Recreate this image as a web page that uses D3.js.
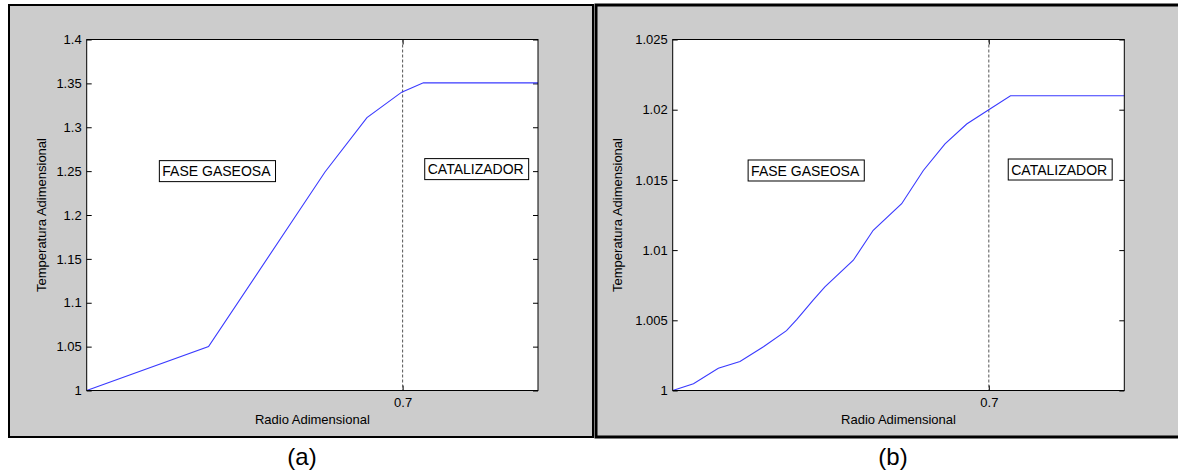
<!DOCTYPE html>
<html>
<head>
<meta charset="utf-8">
<script src="https://cdn.jsdelivr.net/npm/d3@7"></script>
<style>
  body { margin: 0; background: #fff; }
  svg { display: block; font-family: Arial, "Liberation Sans", sans-serif; }
</style>
</head>
<body>
<div id="chart"></div>
<script>
// panel (a)
const radioA = [0, 0.27, 0.528, 0.621, 0.698, 0.746, 1];
const tempA = [1, 1.05, 1.249, 1.311, 1.34, 1.3506, 1.3506];
const ticksA = [1, 1.05, 1.1, 1.15, 1.2, 1.25, 1.3, 1.35, 1.4];

// panel (b)
const radioB = [0, 0.046, 0.101, 0.149, 0.201, 0.252, 0.275, 0.311, 0.337, 0.4, 0.444, 0.507, 0.555, 0.603, 0.651, 0.699, 0.748, 1];
const tempB = [1, 1.00048, 1.00159, 1.00206, 1.00312, 1.00426, 1.00507, 1.00644, 1.00738, 1.00928, 1.01141, 1.0133, 1.01567, 1.01756, 1.01898, 1.01998, 1.02099, 1.02099];
const ticksB = [1, 1.005, 1.01, 1.015, 1.02, 1.025];

const xTicks = [0.7];
const boundary = 0.7;
const regionLabels = ["FASE GASEOSA", "CATALIZADOR"];
const labelXA = [0.161, 0.749];
const labelXB = [0.167, 0.743];
const labelYA = [1.25, 1.2523];
const labelYB = [1.01567, 1.01574];

const W = 1178, H = 475;
const svg = d3.select("#chart").append("svg").attr("width", W).attr("height", H);

function drawPanel(opt) {
  const g = svg.append("g");

  // gray figure background + frame
  g.append("rect")
    .attr("x", opt.frame[0]).attr("y", opt.frame[1])
    .attr("width", opt.frame[2]).attr("height", opt.frame[3])
    .attr("fill", "#cccccc")
    .attr("stroke", "#000").attr("stroke-width", opt.frameStroke);

  const x = d3.scaleLinear().domain([0, 1]).range([opt.left, opt.right]);
  const y = d3.scaleLinear().domain(opt.yDomain).range([opt.bottom, opt.top]);

  g.append("rect")
    .attr("x", opt.left).attr("y", opt.top)
    .attr("width", opt.right - opt.left).attr("height", opt.bottom - opt.top)
    .attr("fill", "#fff");

  const fmt = (d) => String(+d.toFixed(3));

  const styleAxis = (sel) => {
    sel.select(".domain").remove();
    sel.selectAll(".tick line").attr("stroke", "#000");
    sel.selectAll(".tick text").attr("fill", "#000").style("font-size", "13px");
  };

  g.append("g")
    .attr("transform", `translate(${opt.left},0)`)
    .call(d3.axisLeft(y).tickValues(opt.ticks).tickFormat(fmt).tickSize(-5).tickPadding(5))
    .call(styleAxis);
  g.append("g")
    .attr("transform", `translate(${opt.right},0)`)
    .call(d3.axisRight(y).tickValues(opt.ticks).tickFormat("").tickSize(-5))
    .call(styleAxis);
  g.append("g")
    .attr("transform", `translate(0,${opt.bottom})`)
    .call(d3.axisBottom(x).tickValues(xTicks).tickFormat((d) => d).tickSize(-5).tickPadding(7))
    .call(styleAxis);
  g.append("g")
    .attr("transform", `translate(0,${opt.top})`)
    .call(d3.axisTop(x).tickValues(xTicks).tickFormat("").tickSize(-5))
    .call(styleAxis);

  // boundary line
  g.append("line")
    .attr("x1", x(boundary)).attr("x2", x(boundary))
    .attr("y1", opt.top).attr("y2", opt.bottom)
    .attr("stroke", "#555").attr("stroke-width", 1)
    .attr("stroke-dasharray", "3,2");

  const pts = opt.xs.map((v, i) => [v, opt.ys[i]]);
  g.append("path")
    .datum(pts)
    .attr("fill", "none")
    .attr("stroke", "#3a3aff")
    .attr("stroke-width", 1.1)
    .attr("d", d3.line().x((d) => x(d[0])).y((d) => y(d[1])));

  // plot frame
  g.append("rect")
    .attr("x", opt.left).attr("y", opt.top)
    .attr("width", opt.right - opt.left).attr("height", opt.bottom - opt.top)
    .attr("fill", "none").attr("stroke", "#000").attr("stroke-width", 1);

  // region labels with boxes
  regionLabels.forEach((lab, i) => {
    const lx = x(opt.labelX[i]), ly = y(opt.labelY[i]);
    const box = g.append("rect");
    const t = g.append("text")
      .attr("x", lx + 3).attr("y", ly)
      .attr("dy", "0.36em")
      .style("font-size", "14px")
      .attr("fill", "#000")
      .text(lab);
    const tw = t.node().getComputedTextLength();
    box.attr("x", lx).attr("y", ly - 10.5)
      .attr("width", tw + 8).attr("height", 21)
      .attr("fill", "#fff").attr("stroke", "#000").attr("stroke-width", 1);
  });

  g.append("text")
    .attr("x", (opt.left + opt.right) / 2).attr("y", 424)
    .attr("text-anchor", "middle")
    .style("font-size", "13px")
    .text("Radio Adimensional");

  g.append("text")
    .attr("transform", `translate(${opt.yLabelX},${(opt.top + opt.bottom) / 2}) rotate(-90)`)
    .attr("text-anchor", "middle")
    .attr("dy", "0.36em")
    .style("font-size", "13px")
    .text("Temperatura Adimensional");

  svg.append("text")
    .attr("x", opt.captionX).attr("y", 465)
    .attr("text-anchor", "middle")
    .style("font-size", "24px")
    .text(opt.caption);
}

drawPanel({
  frame: [9, 5, 584, 432], frameStroke: 2,
  left: 86.7, right: 538, top: 39.5, bottom: 390.5,
  yDomain: [1, 1.4], ticks: ticksA,
  xs: radioA, ys: tempA,
  labelX: labelXA, labelY: labelYA,
  yLabelX: 41.7, captionX: 302, caption: "(a)"
});

drawPanel({
  frame: [596, 5, 600, 432], frameStroke: 3,
  left: 672.7, right: 1124.3, top: 39.5, bottom: 390.5,
  yDomain: [1, 1.025], ticks: ticksB,
  xs: radioB, ys: tempB,
  labelX: labelXB, labelY: labelYB,
  yLabelX: 617.7, captionX: 893, caption: "(b)"
});
</script>
</body>
</html>
